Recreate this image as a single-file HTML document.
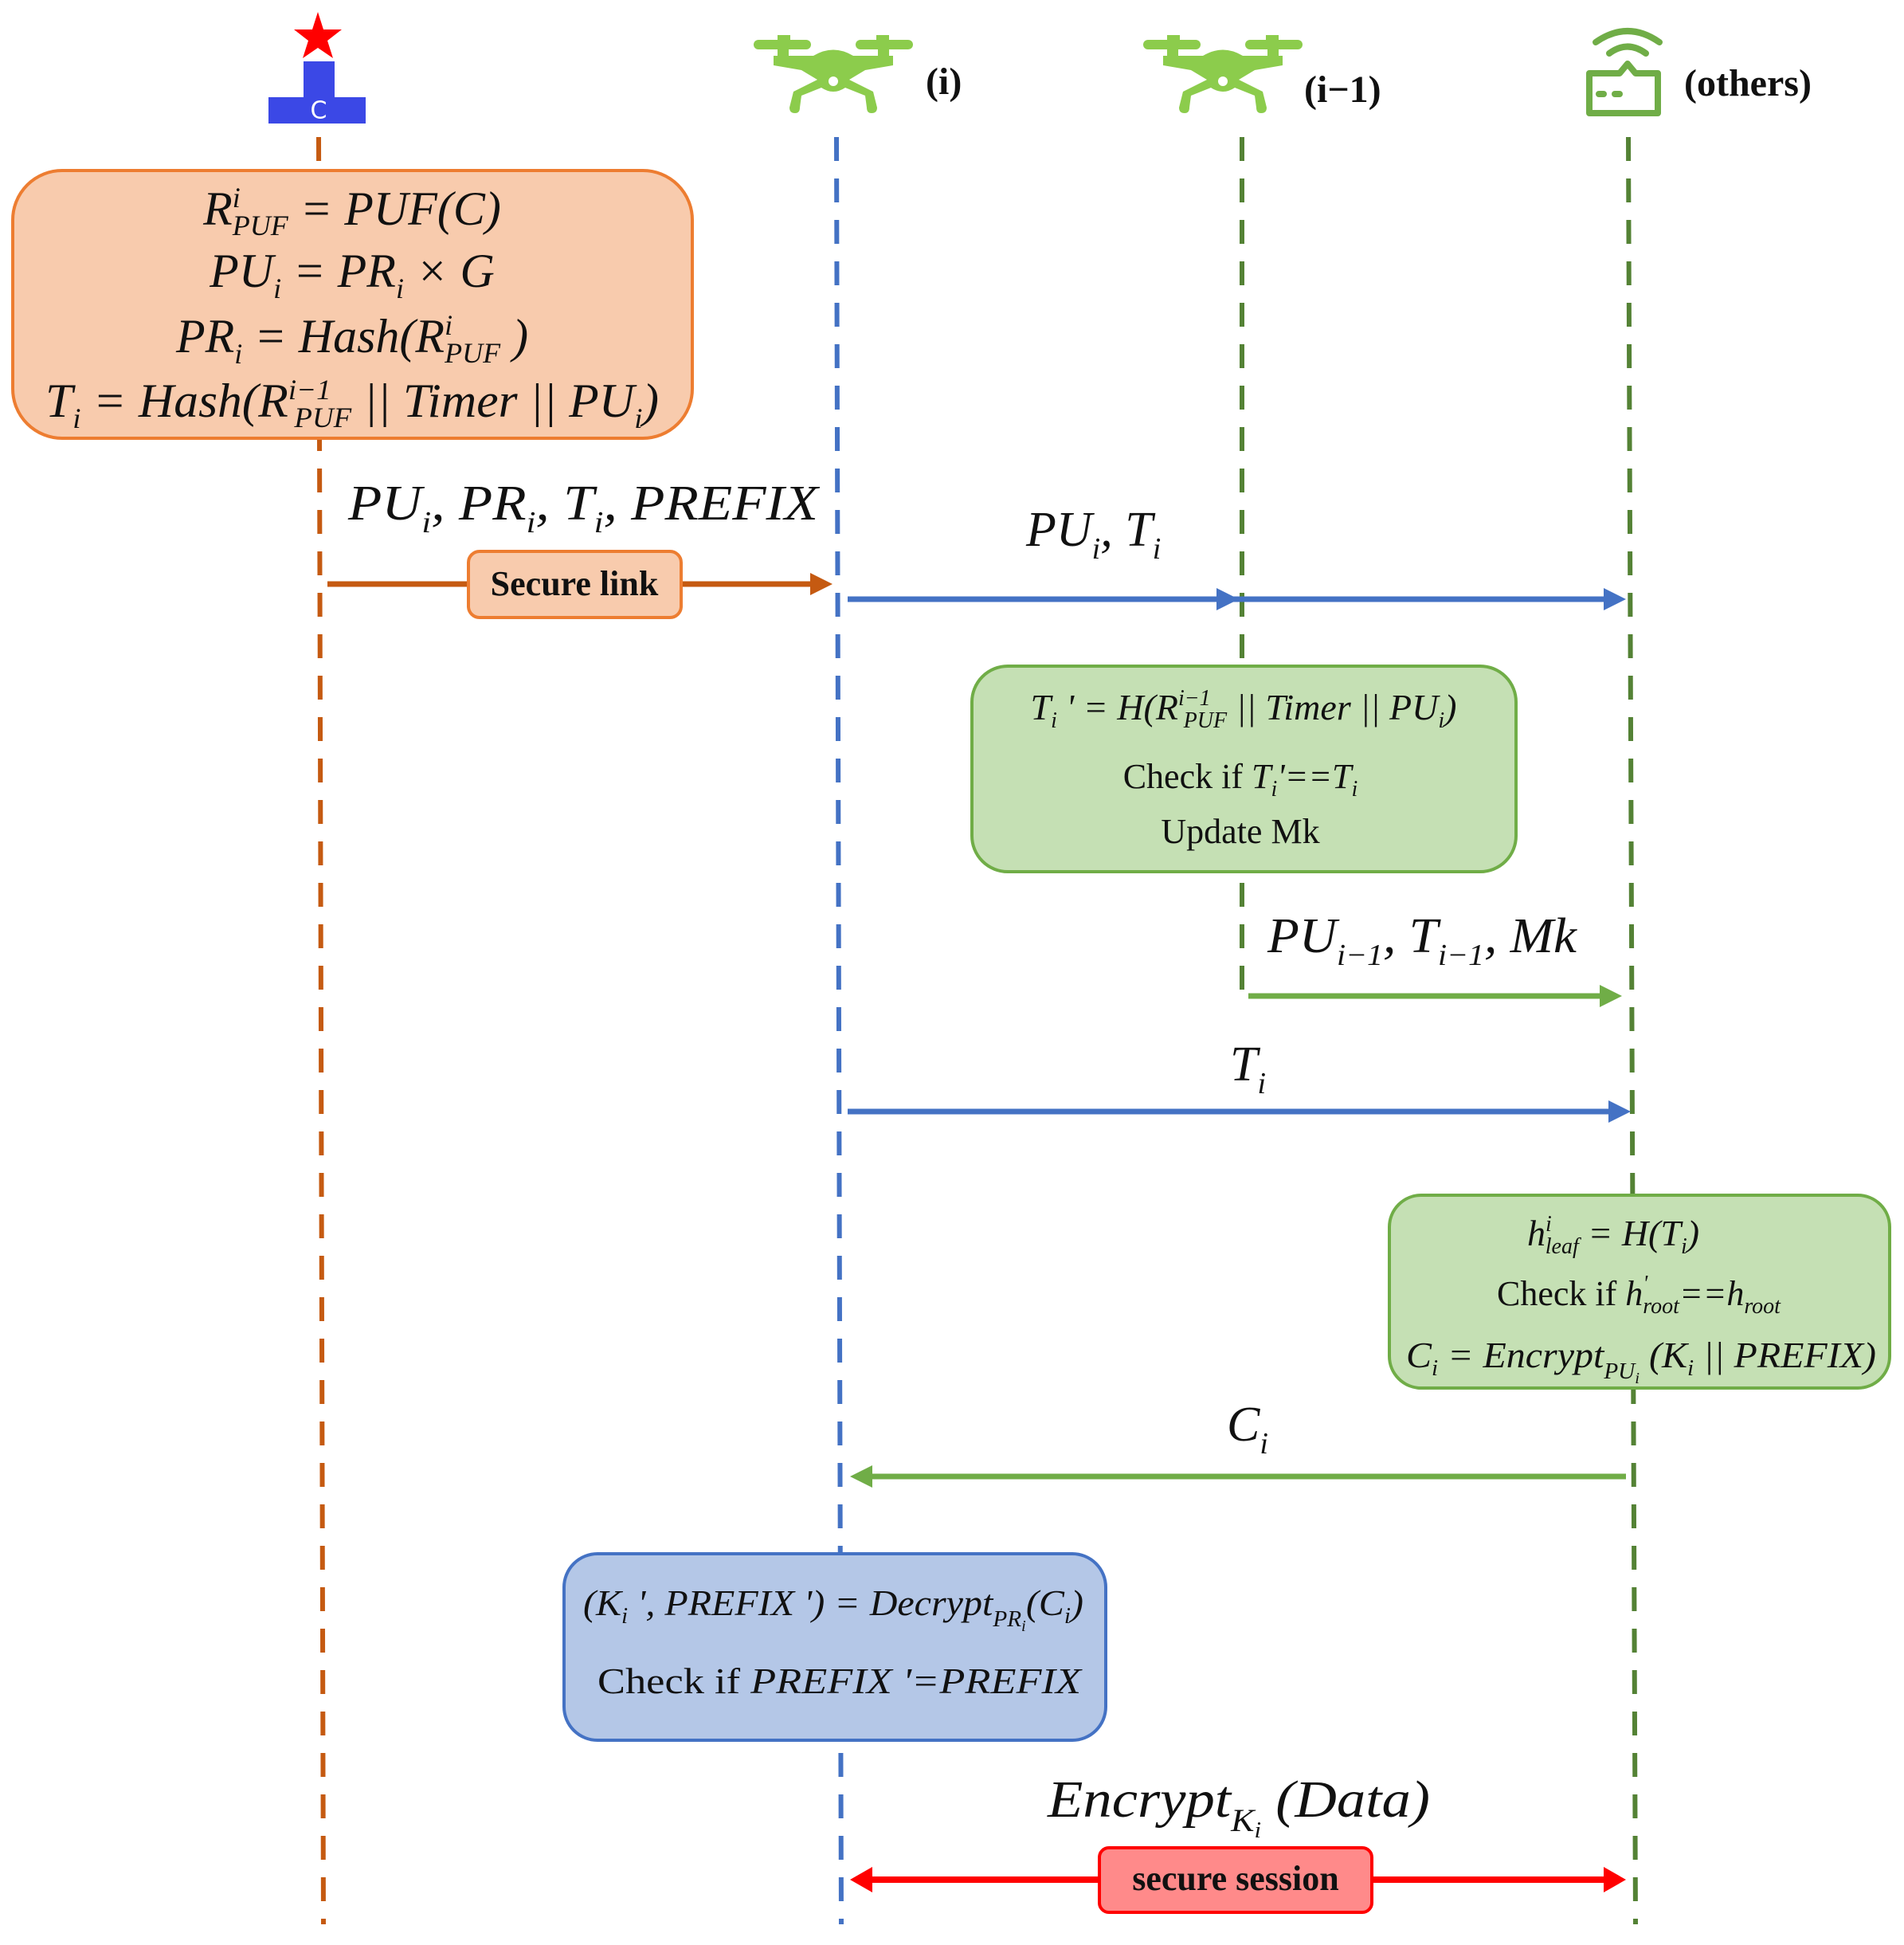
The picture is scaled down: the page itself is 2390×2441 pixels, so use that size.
<!DOCTYPE html>
<html><head><meta charset="utf-8"><style>
html,body{margin:0;padding:0;background:#fff;}
svg{display:block;}
svg text{font-family:"Liberation Serif","Times New Roman","Nimbus Roman","DejaVu Serif",serif;}
.m{font-style:italic;fill:#111;}
.r{fill:#111;}
.b{font-weight:bold;fill:#111;}
</style></head><body>
<svg width="2390" height="2441" viewBox="0 0 2390 2441" xmlns="http://www.w3.org/2000/svg" font-family="Liberation Serif, Times New Roman, serif">
<defs>
<g id="drone" fill="#8ccc4c">
  <rect x="-100" y="-50" width="72" height="12" rx="6"/>
  <rect x="28" y="-50" width="72" height="12" rx="6"/>
  <rect x="-70" y="-56" width="16" height="8"/>
  <rect x="54" y="-56" width="16" height="8"/>
  <rect x="-70" y="-40" width="14" height="12"/>
  <rect x="56" y="-40" width="14" height="12"/>
  <path d="M-75,-30 L-25,-30 Q0,-45 25,-30 L75,-30 L75,-18 L40,-12 L20,0 L50,15 L55,35 Q55,42 48,42 Q42,42 42,35 L40,20 L15,10 Q0,20 -15,10 L-40,20 L-42,35 Q-42,42 -48,42 Q-55,42 -55,35 L-50,15 L-20,0 L-40,-12 L-75,-18 Z"/>
  <circle cx="0" cy="2" r="6" fill="#fff"/>
</g>
</defs>
<g transform="translate(-3,0)">
<!-- lifelines -->
<g fill="none" stroke-width="6" stroke-dasharray="30,22">
  <line x1="403" y1="172" x2="409" y2="2415" stroke="#c55a11"/>
  <line x1="1053" y1="172" x2="1059" y2="2415" stroke="#4472c4"/>
  <line x1="1562" y1="172" x2="1562" y2="1250" stroke="#548235"/>
  <line x1="2047" y1="172" x2="2056" y2="2415" stroke="#548235"/>
</g>

<!-- icons -->
<polygon points="402,15 409,37 432,37 414,51 421,73 402,60 383,73 390,51 372,37 395,37" fill="#ff0000"/>
<rect x="384" y="77" width="39" height="46" fill="#3b48e6"/>
<rect x="340" y="122" width="122" height="33" fill="#3b48e6"/>
<text x="403" y="140" style="font-family:'DejaVu Sans',sans-serif" font-size="30" fill="#fff" text-anchor="middle" dominant-baseline="middle">C</text>

<use href="#drone" transform="translate(1049,100)"/>
<use href="#drone" transform="translate(1538,100)"/>
<text x="1165" y="118" class="b" font-size="48">(i)</text>
<text x="1640" y="128" class="b" font-size="48">(i−1)</text>

<g fill="none" stroke="#70ad47" stroke-width="8" stroke-linecap="round">
  <path d="M1998,92 L2036,92 L2046,80 L2056,92 L2084,92 L2084,142 L1998,142 Z" stroke-linejoin="round"/>
  <path d="M2023,67 Q2046,50 2069,67"/>
  <path d="M2006,53 Q2046,25 2086,53"/>
</g>
<rect x="2006" y="114" width="14" height="8" rx="4" fill="#70ad47"/>
<rect x="2026" y="114" width="14" height="8" rx="4" fill="#70ad47"/>
<text x="2117" y="120" class="b" font-size="48">(others)</text>

<!-- orange box -->
<rect x="19" y="214" width="853" height="336" rx="62" fill="#f8cbad" stroke="#ed7d31" stroke-width="4"/>
<text class="m" font-size="60" text-anchor="middle" x="445" y="282">R<tspan font-size="36" dy="-22">i</tspan><tspan font-size="36" dx="-10" dy="35">PUF</tspan><tspan dy="-13"> = PUF(C)</tspan></text>
<text class="m" font-size="60" text-anchor="middle" x="445" y="360">PU<tspan font-size="36" dy="14">i</tspan><tspan dy="-14"> = PR</tspan><tspan font-size="36" dy="14">i</tspan><tspan dy="-14"> × G</tspan></text>
<text class="m" font-size="60" text-anchor="middle" x="445" y="442">PR<tspan font-size="36" dy="14">i</tspan><tspan dy="-14"> = Hash(R</tspan><tspan font-size="36" dy="-22">i</tspan><tspan font-size="36" dx="-10" dy="35">PUF</tspan><tspan dy="-13"> )</tspan></text>
<text class="m" font-size="60" text-anchor="middle" x="445" y="523" textLength="770" lengthAdjust="spacingAndGlyphs">T<tspan font-size="36" dy="14">i</tspan><tspan dy="-14"> = Hash(R</tspan><tspan font-size="36" dy="-22">i−1</tspan><tspan font-size="36" dx="-45" dy="35">PUF</tspan><tspan dy="-13"> || Timer || PU</tspan><tspan font-size="36" dy="14">i</tspan><tspan dy="-14">)</tspan></text>

<!-- msg 1 -->
<text class="m" font-size="62" x="440" y="652" textLength="590" lengthAdjust="spacingAndGlyphs">PU<tspan font-size="38" dy="16">i</tspan><tspan dy="-16">, PR</tspan><tspan font-size="38" dy="16">i</tspan><tspan dy="-16">, T</tspan><tspan font-size="38" dy="16">i</tspan><tspan dy="-16">, PREFIX</tspan></text>
<line x1="414" y1="733" x2="1025" y2="733" stroke="#c55a11" stroke-width="7"/>
<polygon points="1020,719 1048,733 1020,747" fill="#c55a11"/>
<rect x="591" y="692" width="267" height="83" rx="14" fill="#f8cbad" stroke="#ed7d31" stroke-width="4"/>
<text x="724" y="747" class="b" font-size="44" text-anchor="middle">Secure link</text>

<!-- msg 2 -->
<text class="m" font-size="62" x="1291" y="685">PU<tspan font-size="38" dy="16">i</tspan><tspan dy="-16">, T</tspan><tspan font-size="38" dy="16">i</tspan></text>
<line x1="1067" y1="752" x2="2020" y2="752" stroke="#4472c4" stroke-width="7"/>
<polygon points="1530,738 1558,752 1530,766" fill="#4472c4"/>
<polygon points="2016,738 2044,752 2016,766" fill="#4472c4"/>

<!-- green box 1 -->
<rect x="1223" y="836" width="683" height="258" rx="45" fill="#c5e0b4" stroke="#70ad47" stroke-width="4"/>
<text class="m" font-size="46" x="1564" y="903" text-anchor="middle">T<tspan font-size="28" dy="10">i</tspan><tspan dy="-10"> ' = H(R</tspan><tspan font-size="28" dy="-18">i−1</tspan><tspan font-size="28" dx="-34" dy="28">PUF</tspan><tspan dy="-10"> || Timer || PU</tspan><tspan font-size="28" dy="10">i</tspan><tspan dy="-10">)</tspan></text>
<text class="r" font-size="44" x="1560" y="989" text-anchor="middle">Check if  <tspan class="m">T</tspan><tspan class="m" font-size="28" dy="10">i</tspan><tspan class="m" dy="-10">'==T</tspan><tspan class="m" font-size="28" dy="10">i</tspan></text>
<text class="r" font-size="44" x="1560" y="1058" text-anchor="middle">Update Mk</text>

<!-- msg 3 -->
<text class="m" font-size="62" x="1594" y="1195" textLength="388" lengthAdjust="spacingAndGlyphs">PU<tspan font-size="38" dy="16">i−1</tspan><tspan dy="-16">, T</tspan><tspan font-size="38" dy="16">i−1</tspan><tspan dy="-16">, Mk</tspan></text>
<line x1="1570" y1="1250" x2="2015" y2="1250" stroke="#70ad47" stroke-width="7"/>
<polygon points="2011,1236 2039,1250 2011,1264" fill="#70ad47"/>

<!-- msg 4 -->
<text class="m" font-size="62" x="1547" y="1356">T<tspan font-size="38" dy="16">i</tspan></text>
<line x1="1067" y1="1395" x2="2025" y2="1395" stroke="#4472c4" stroke-width="7"/>
<polygon points="2022,1381 2050,1395 2022,1409" fill="#4472c4"/>

<!-- green box 2 -->
<rect x="1747" y="1500" width="628" height="242" rx="40" fill="#c5e0b4" stroke="#70ad47" stroke-width="4"/>
<text class="m" font-size="46" x="1920" y="1563">h<tspan font-size="28" dy="-18">i</tspan><tspan font-size="28" dx="-8" dy="28">leaf</tspan><tspan dy="-10"> = H(T</tspan><tspan font-size="28" dy="10">i</tspan><tspan dy="-10">)</tspan></text>
<text class="r" font-size="44" x="1882" y="1638">Check if  <tspan class="m">h</tspan><tspan class="m" font-size="28" dy="-18">'</tspan><tspan class="m" font-size="28" dx="-6" dy="28">root</tspan><tspan class="m" dy="-10">==h</tspan><tspan class="m" font-size="28" dy="10">root</tspan></text>
<text class="m" font-size="46" x="1768" y="1716" textLength="590" lengthAdjust="spacingAndGlyphs">C<tspan font-size="28" dy="10">i</tspan><tspan dy="-10"> = Encrypt</tspan><tspan font-size="28" dy="14">PU</tspan><tspan font-size="20" dy="6">i</tspan><tspan dy="-20"> (K</tspan><tspan font-size="28" dy="10">i</tspan><tspan dy="-10"> || PREFIX)</tspan></text>

<!-- msg 5 -->
<text class="m" font-size="62" x="1543" y="1808">C<tspan font-size="38" dy="16">i</tspan></text>
<line x1="2044" y1="1853" x2="1095" y2="1853" stroke="#70ad47" stroke-width="7"/>
<polygon points="1098,1839 1070,1853 1098,1867" fill="#70ad47"/>

<!-- blue box -->
<rect x="711" y="1950" width="680" height="234" rx="42" fill="#b4c7e7" stroke="#4472c4" stroke-width="4"/>
<text class="m" font-size="46" x="735" y="2027" textLength="628" lengthAdjust="spacingAndGlyphs">(K<tspan font-size="28" dy="10">i</tspan><tspan dy="-10"> ', PREFIX ') = Decrypt</tspan><tspan font-size="28" dy="14">PR</tspan><tspan font-size="20" dy="6">i</tspan><tspan dy="-20">(C</tspan><tspan font-size="28" dy="10">i</tspan><tspan dy="-10">)</tspan></text>
<text class="r" font-size="46" x="753" y="2125" textLength="607" lengthAdjust="spacingAndGlyphs">Check if  <tspan class="m">PREFIX '=PREFIX</tspan></text>

<!-- msg 6 -->
<text class="m" font-size="66" x="1318" y="2280" textLength="480" lengthAdjust="spacingAndGlyphs">Encrypt<tspan font-size="40" dy="18">K</tspan><tspan font-size="28" dy="8">i</tspan><tspan dy="-26"> (Data)</tspan></text>
<line x1="1095" y1="2359" x2="2020" y2="2359" stroke="#ff0000" stroke-width="8"/>
<polygon points="1098,2343 1070,2359 1098,2375" fill="#ff0000"/>
<polygon points="2016,2343 2044,2359 2016,2375" fill="#ff0000"/>
<rect x="1383" y="2319" width="342" height="81" rx="12" fill="#ff8a8a" stroke="#ff0000" stroke-width="4"/>
<text x="1554" y="2372" class="b" font-size="44" text-anchor="middle">secure session</text>
</g>
</svg>
</body></html>
